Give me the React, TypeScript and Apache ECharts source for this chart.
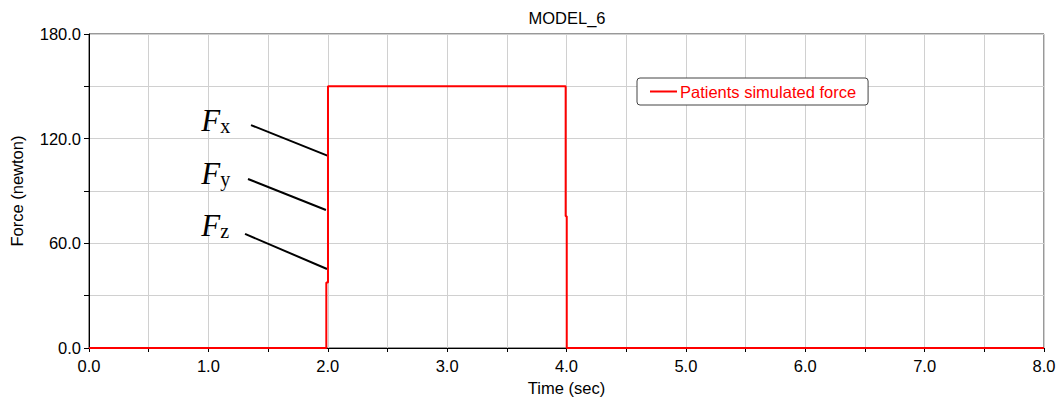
import React, { useEffect, useRef } from "react";
import * as echarts from "echarts";

const title = "MODEL_6";
const seriesName = "Patients simulated force";
const xName = "Time (sec)";
const yName = "Force (newton)";
const timeValues = [0, 1.988, 1.988, 2.002, 2.002, 3.993, 3.993, 4.002, 4.002, 8.0];
const forceValues = [0, 0, 37.5, 37.5, 150, 150, 75.5, 75.5, 0, 0];
const annotationLabels = ["x", "y", "z"];
const annotationText = [[0.94, 121.5], [0.94, 91.1], [0.94, 61.3]];
const annotationStart = [[1.357, 127.8], [1.332, 96.9], [1.307, 65.4]];
const annotationEnd = [[2.002, 110.1], [1.985, 79.1], [1.994, 45.3]];

export default function App() {
  const ref = useRef<HTMLDivElement>(null);
  useEffect(() => {
    if (!ref.current) return;
    const chart = echarts.init(ref.current, null, { renderer: "svg" });
    const data = timeValues.map((t, i) => [t, forceValues[i]]);
    const font = "Arial, 'Liberation Sans', sans-serif";
    const fs = 16.5;
    chart.setOption({
      animation: false,
      backgroundColor: "#fff",
      title: {
        text: title,
        left: 567,
        textAlign: "center",
        top: 9,
        padding: 0,
        textStyle: { fontFamily: font, fontSize: fs, fontWeight: "normal", color: "#000" },
      },
      legend: {
        left: 637,
        top: 78,
        padding: [5, 12, 5, 13],
        borderColor: "#444",
        borderWidth: 1,
        borderRadius: 3,
        backgroundColor: "#fff",
        itemWidth: 27,
        itemHeight: 2,
        itemGap: 0,
        icon: "rect",
        textStyle: { color: "#ff0000", fontFamily: font, fontSize: fs, padding: [0, 0, 0, -2] },
        data: [{ name: seriesName, itemStyle: { color: "#ff0000" } }],
      },
      grid: {
        left: 89,
        right: 15,
        top: 34,
        bottom: 55,
        show: true,
        borderColor: "#333",
        borderWidth: 1,
      },
      xAxis: {
        type: "value",
        min: 0,
        max: 8,
        interval: 0.5,
        name: xName,
        nameLocation: "middle",
        nameGap: 31,
        nameTextStyle: { fontFamily: font, fontSize: fs, color: "#000" },
        axisLine: { show: true, onZero: false, lineStyle: { color: "#000", width: 1 } },
        axisTick: { show: true, length: 4, lineStyle: { color: "#000" } },
        axisLabel: {
          fontFamily: font,
          fontSize: fs,
          color: "#000",
          margin: 9,
          formatter: (v: number) => (Math.abs(v - Math.round(v)) < 1e-6 ? v.toFixed(1) : ""),
        },
        splitLine: { show: true, lineStyle: { color: "#d0d0d0", width: 1 } },
      },
      yAxis: {
        type: "value",
        min: 0,
        max: 180,
        interval: 30,
        name: yName,
        nameLocation: "middle",
        nameGap: 64,
        nameTextStyle: { fontFamily: font, fontSize: fs, color: "#000" },
        axisLine: { show: true, lineStyle: { color: "#000", width: 1 } },
        axisTick: { show: true, length: 5, lineStyle: { color: "#000" } },
        axisLabel: {
          fontFamily: font,
          fontSize: fs,
          color: "#000",
          margin: 8,
          formatter: (v: number) => (v % 60 === 0 ? v.toFixed(1) : ""),
        },
        splitLine: { show: true, lineStyle: { color: "#d0d0d0", width: 1 } },
      },
      series: [
        {
          name: seriesName,
          type: "line",
          data,
          showSymbol: false,
          symbol: "none",
          lineStyle: { color: "#ff0000", width: 2 },
          itemStyle: { color: "#ff0000" },
          z: 5,
          markLine: {
            silent: true,
            symbol: ["none", "none"],
            label: { show: false },
            lineStyle: { color: "#000", width: 2, type: "solid" },
            data: annotationStart.map((s, i) => [
              { coord: s },
              { coord: annotationEnd[i] },
            ]),
          },
        },
      ],
    });
    const serif = "'Liberation Serif', 'DejaVu Serif', serif";
    const texts = annotationLabels.map((lab, i) => {
      const p = chart.convertToPixel({ gridIndex: 0 }, annotationText[i]) as number[];
      return {
        type: "text",
        x: p[0],
        y: p[1],
        z: 10,
        style: {
          text: `{f|F}{s|${lab}}`,
          verticalAlign: "bottom",
          align: "left",
          rich: {
            f: { fontFamily: serif, fontStyle: "italic", fontSize: 31, fill: "#000", lineHeight: 31, verticalAlign: "bottom" },
            s: { fontFamily: serif, fontSize: 20, fill: "#000", lineHeight: 20, verticalAlign: "bottom", padding: [0, 0, 0, 0] },
          },
        },
      };
    });
    chart.setOption({ graphic: texts });
    return () => chart.dispose();
  }, []);
  return (
    <div
      ref={ref}
      style={{ width: 1059, height: 403, position: "fixed", left: 0, top: 0 }}
    />
  );
}
